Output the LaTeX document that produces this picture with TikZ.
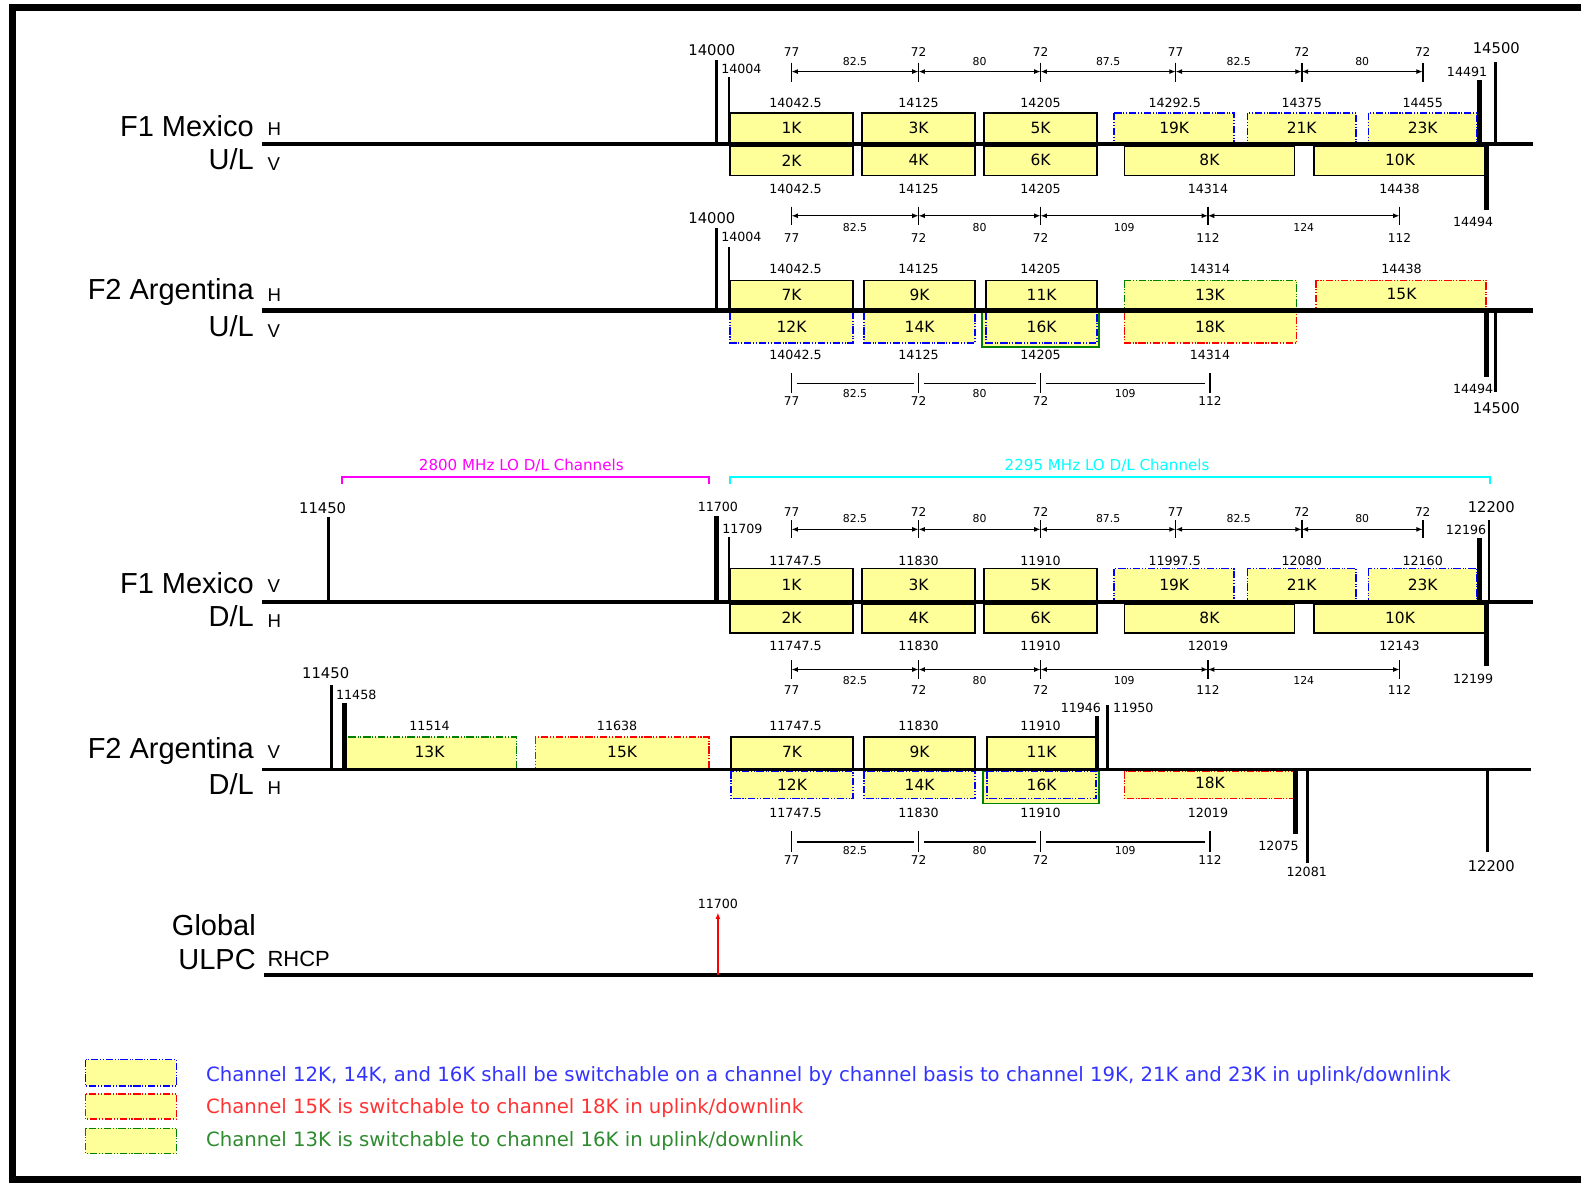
\documentclass[tikz,border=0pt]{standalone}
\usepackage{fontspec}
\setmainfont{Liberation Sans}
\newfontfamily\dvs{DejaVu Sans}
\usetikzlibrary{arrows.meta}
\definecolor{cYel}{HTML}{FFFF99}
\definecolor{cBlu}{HTML}{0000FF}
\definecolor{cRed}{HTML}{FF0000}
\definecolor{cGrn}{HTML}{008000}
\definecolor{cMag}{HTML}{FF00FF}
\definecolor{cCya}{HTML}{00FFFF}
\definecolor{cTxtBlu}{HTML}{3333FF}
\definecolor{cTxtRed}{HTML}{FF3333}
\definecolor{cTxtGrn}{HTML}{2E8B2E}

\begin{document}
\begin{tikzpicture}[
  x=0.020166cm, y=-0.020166cm,
  >={Latex[length=3.6pt,width=2.8pt]},
  axisln/.style={line width=2.6pt},
  edgeln/.style={line width=1.7pt},
  edgebold/.style={line width=2.8pt},
  chan/.style={draw=black, fill=cYel, line width=0.85pt},
  swdash/.style={fill=cYel, line width=0.85pt,
              dash pattern=on 4.2pt off 1pt on 0.6pt off 1pt on 0.6pt off 1pt},
  swblue/.style={swdash, draw=cBlu},
  swred/.style={swdash, draw=cRed},
  swgrn/.style={swdash, draw=cGrn},
  dimln/.style={line width=0.65pt},
  tickln/.style={line width=0.9pt},
  chlbl/.style={font=\dvs\fontsize{8.8}{10}\selectfont, inner sep=0pt},
  freq/.style={font=\dvs\fontsize{7.2}{8}\selectfont, inner sep=0pt},
  dimlbl/.style={font=\dvs\fontsize{6.2}{7}\selectfont, inner sep=0pt},
  ticklbl/.style={font=\dvs\fontsize{6.9}{8}\selectfont, inner sep=0pt},
  mklbl/.style={font=\dvs\fontsize{7.2}{8}\selectfont, inner sep=0pt},
  mkbig/.style={font=\dvs\fontsize{8.4}{9}\selectfont, inner sep=0pt},
  rowlbl/.style={font=\fontsize{16.5}{18}\selectfont, anchor=east, inner sep=0pt},
  pol/.style={font=\fontsize{10.6}{12}\selectfont, anchor=west, inner sep=0pt},
  lotxt/.style={font=\dvs\fontsize{8.6}{10}\selectfont, inner sep=0pt},
  legtxt/.style={font=\dvs\fontsize{11.2}{13}\selectfont, anchor=west, inner sep=0pt},
]
\useasboundingbox (0,0) rectangle (1568,1173);
% ---- page frame ----
\draw[line width=4pt] (1568,7) -- (12,7) -- (12,1170) -- (1568,1170);

% ---- F1 Mexico U/L ----
\node[rowlbl] (f1ul) at (252,125) {F1 Mexico};
\node[rowlbl] (f1ulb) at (252,158) {U/L};
\node[pol] (f1ulh) at (265,128) {H};
\node[pol] (f1ulv) at (265,163) {V};
\foreach \xa/\xb/\lab in {724/846/1K,855/967/3K,976/1088/5K}{
  \draw[chan] (\xa,112) rectangle (\xb,143);
  \node[chlbl] (ch\lab) at ({(\xa+\xb)/2},127) {\lab};
}
\foreach \xa/\xb/\lab in {1105/1224/19K,1237/1345/21K,1357/1465/23K}{
  \draw[swblue] (\xa,112) rectangle (\xb,143);
  \node[chlbl] (ch\lab) at ({(\xa+\xb)/2},127) {\lab};
}
\foreach \xa/\xb/\lab in {724/846/2K,855/967/4K,976/1088/6K,1115/1284/8K,1303/1474/10K}{
  \draw[chan] (\xa,145) rectangle (\xb,174);
  \node[chlbl] (ch\lab) at ({(\xa+\xb)/2},159) {\lab};
}
\foreach \x/\f in {789/14042.5,911/14125,1032/14205,1165/14292.5,1291/14375,1411/14455}
  \node[freq] at (\x,102) {\f};
\foreach \x/\f in {789/14042.5,911/14125,1032/14205,1198/14314,1388/14438}
  \node[freq] at (\x,187) {\f};
\draw[axisln] (260,143) -- (1520,143);
% band edges
\draw[edgeln] (711,143) -- (711,60);
\draw[edgeln] (723,143) -- (723,76);
\draw[edgebold] (1467,143) -- (1467,79);
\draw[edgeln] (1483,143) -- (1483,61);
\draw[edgebold] (1474,143) -- (1474,208);
\node[mkbig] (m14000a) at (706,50) {14000};
\node[mklbl, anchor=west] (m14004a) at (715,68) {14004};
\node[mklbl] (m14491) at (1455,71) {14491};
\node[mkbig] (m14500a) at (1484,48) {14500};
\node[mklbl] (m14494a) at (1461,220) {14494};
% spacing above
\foreach \xa/\xb/\v in {785/911/82.5,911/1032/80,1032/1166/87.5,1166/1291/82.5,1291/1411/80}{
  \draw[<->, dimln] (\xa,71) -- (\xb,71);
  \node[dimlbl] at ({(\xa+\xb)/2},61) {\v};
}
\foreach \x/\t in {785/77,911/72,1032/72,1166/77,1291/72,1411/72}{
  \draw[tickln] (\x,62) -- (\x,81);
  \node[ticklbl] at (\x,52) {\t};
}
% spacing between the two U/L plans
\foreach \xa/\xb/\v in {785/911/82.5,911/1032/80,1032/1198/109,1198/1388/124}{
  \draw[<->, dimln] (\xa,214) -- (\xb,214);
  \node[dimlbl] at ({(\xa+\xb)/2},226) {\v};
}
\foreach \x/\t in {785/77,911/72,1032/72,1198/112,1388/112}{
  \draw[tickln] (\x,205) -- (\x,223);
  \node[ticklbl] at (\x,236) {\t};
}

% ---- F2 Argentina U/L ----
\node[rowlbl] (f2ul) at (252,290) {F2 Argentina};
\node[rowlbl] (f2ulb) at (252,323) {U/L};
\node[pol] (f2ulh) at (265,293) {H};
\node[pol] (f2ulv) at (265,328) {V};
\foreach \xa/\xb/\lab in {724/846/7K,857/967/9K,978/1088/11K}{
  \draw[chan] (\xa,278) rectangle (\xb,308);
  \node[chlbl] (ch\lab) at ({(\xa+\xb)/2},292) {\lab};
}
\draw[swgrn] (1115,278) rectangle (1286,308);
\node[chlbl] (ch13K) at (1200,292) {13K};
\draw[swred] (1305,278) rectangle (1474,308);
\node[chlbl] (ch15K) at (1390,292) {15K};
\draw[draw=cGrn, fill=cYel, line width=0.85pt] (974,310) rectangle (1090,344);
\foreach \xa/\xb/\lab in {724/846/12K,857/967/14K,978/1088/16K}{
  \draw[swblue] (\xa,310) rectangle (\xb,340);
  \node[chlbl] (ch\lab) at ({(\xa+\xb)/2},324) {\lab};
}
\draw[swred] (1115,310) rectangle (1286,340);
\node[chlbl] (ch18K) at (1200,324) {18K};
\foreach \x/\f in {789/14042.5,911/14125,1032/14205,1200/14314,1390/14438}
  \node[freq] at (\x,267) {\f};
\foreach \x/\f in {789/14042.5,911/14125,1032/14205,1200/14314}
  \node[freq] at (\x,352) {\f};
\draw[axisln] (260,308) -- (1520,308);
\draw[edgeln] (711,308) -- (711,226);
\draw[edgeln] (723,308) -- (723,245);
\draw[edgebold] (1474,308) -- (1474,374);
\draw[edgeln] (1483,308) -- (1483,389);
\node[mkbig] (m14000b) at (706,216) {14000};
\node[mklbl, anchor=west] (m14004b) at (715,235) {14004};
\node[mklbl] (m14494b) at (1461,386) {14494};
\node[mkbig] (m14500b) at (1484,405) {14500};
% spacing below
\foreach \xa/\xb/\v in {785/911/82.5,911/1032/80,1032/1200/109}{
  \draw[dimln] (\xa+5,380) -- (\xb-5,380);
  \node[dimlbl] at ({(\xa+\xb)/2},390) {\v};
}
\foreach \x/\t in {785/77,911/72,1032/72,1200/112}{
  \draw[tickln] (\x,370) -- (\x,390);
  \node[ticklbl] at (\x,398) {\t};
}

% ---- LO ranges ----
\draw[cMag, line width=0.9pt] (339,480) -- (339,473) -- (703,473) -- (703,480);
\node[lotxt, text=cMag] (lo2800) at (517,462) {2800 MHz LO D/L Channels};
\draw[cCya, line width=0.9pt] (724,480) -- (724,473) -- (1478,473) -- (1478,480);
\node[lotxt, text=cCya] (lo2295) at (1098,462) {2295 MHz LO D/L Channels};

% ---- F1 Mexico D/L ----
\node[rowlbl] (f1dl) at (252,578) {F1 Mexico};
\node[rowlbl] (f1dlb) at (252,611) {D/L};
\node[pol] (f1dlv) at (265,581) {V};
\node[pol] (f1dlh) at (265,616) {H};
\foreach \xa/\xb/\lab in {724/846/1K,855/967/3K,976/1088/5K}{
  \draw[chan] (\xa,564) rectangle (\xb,597);
  \node[chlbl] at ({(\xa+\xb)/2},580) {\lab};
}
\foreach \xa/\xb/\lab in {1105/1224/19K,1237/1345/21K,1357/1465/23K}{
  \draw[swblue] (\xa,564) rectangle (\xb,597);
  \node[chlbl] at ({(\xa+\xb)/2},580) {\lab};
}
\foreach \xa/\xb/\lab in {724/846/2K,855/967/4K,976/1088/6K,1115/1284/8K,1303/1474/10K}{
  \draw[chan] (\xa,599) rectangle (\xb,628);
  \node[chlbl] at ({(\xa+\xb)/2},613) {\lab};
}
\foreach \x/\f in {789/11747.5,911/11830,1032/11910,1165/11997.5,1291/12080,1411/12160}
  \node[freq] at (\x,556) {\f};
\foreach \x/\f in {789/11747.5,911/11830,1032/11910,1198/12019,1388/12143}
  \node[freq] at (\x,641) {\f};
\draw[line width=2pt] (260,597) -- (1520,597);
\draw[edgeln] (326,597) -- (326,513);
\draw[edgebold] (711,597) -- (711,512);
\draw[edgeln] (723,597) -- (723,533);
\draw[edgebold] (1467,597) -- (1467,534);
\draw[line width=1.3pt] (1477,597) -- (1477,516);
\draw[edgebold] (1474,597) -- (1474,661);
\node[mkbig] (m11450a) at (320,504) {11450};
\node[mklbl] (m11700a) at (712,503) {11700};
\node[mklbl, anchor=west] (m11709) at (716,525) {11709};
\node[mkbig] (m12200a) at (1479,503) {12200};
\node[mklbl] (m12196) at (1454,526) {12196};
\node[mklbl] (m12199) at (1461,673) {12199};
% spacing above
\foreach \xa/\xb/\v in {785/911/82.5,911/1032/80,1032/1166/87.5,1166/1291/82.5,1291/1411/80}{
  \draw[<->, dimln] (\xa,525) -- (\xb,525);
  \node[dimlbl] at ({(\xa+\xb)/2},514) {\v};
}
\foreach \x/\t in {785/77,911/72,1032/72,1166/77,1291/72,1411/72}{
  \draw[tickln] (\x,516) -- (\x,534);
  \node[ticklbl] at (\x,508) {\t};
}
% spacing below
\foreach \xa/\xb/\v in {785/911/82.5,911/1032/80,1032/1198/109,1198/1388/124}{
  \draw[<->, dimln] (\xa,664) -- (\xb,664);
  \node[dimlbl] at ({(\xa+\xb)/2},675) {\v};
}
\foreach \x/\t in {785/77,911/72,1032/72,1198/112,1388/112}{
  \draw[tickln] (\x,655) -- (\x,673);
  \node[ticklbl] at (\x,684) {\t};
}

% ---- F2 Argentina D/L ----
\node[rowlbl] (f2dl) at (252,745) {F2 Argentina};
\node[rowlbl] (f2dlb) at (252,778) {D/L};
\node[pol] (f2dlv) at (265,746) {V};
\node[pol] (f2dlh) at (265,782) {H};
\draw[swgrn] (340,731) rectangle (512,763);
\node[chlbl] at (426,746) {13K};
\draw[swred] (531,731) rectangle (703,763);
\node[chlbl] at (617,746) {15K};
\foreach \xa/\xb/\lab in {725/846/7K,857/967/9K,979/1087/11K}{
  \draw[chan] (\xa,731) rectangle (\xb,763);
  \node[chlbl] at ({(\xa+\xb)/2},746) {\lab};
}
\draw[draw=cGrn, fill=cYel, line width=0.85pt] (975,765) rectangle (1090,797);
\foreach \xa/\xb/\lab in {725/846/12K,857/967/14K,979/1087/16K}{
  \draw[swblue] (\xa,765) rectangle (\xb,792);
  \node[chlbl] at ({(\xa+\xb)/2},778) {\lab};
}
\draw[swred] (1115,765) rectangle (1284,792);
\node[chlbl] at (1200,776) {18K};
\foreach \x/\f in {426/11514,612/11638,789/11747.5,911/11830,1032/11910}
  \node[freq] at (\x,720) {\f};
\foreach \x/\f in {789/11747.5,911/11830,1032/11910,1198/12019}
  \node[freq] at (\x,806) {\f};
\draw[line width=1.5pt] (260,763) -- (1518,763);
\draw[edgeln] (329,763) -- (329,679);
\draw[edgebold] (342,763) -- (342,697);
\draw[edgebold] (1088,763) -- (1088,710);
\draw[edgeln] (1098,763) -- (1098,699);
\draw[edgebold] (1285,763) -- (1285,827);
\draw[edgeln] (1297,763) -- (1297,856);
\draw[edgeln] (1475,763) -- (1475,845);
\node[mkbig] (m11450b) at (323,668) {11450};
\node[mklbl, anchor=west] (m11458) at (333,689) {11458};
\node[mklbl] (m11946) at (1072,702) {11946};
\node[mklbl] (m11950) at (1124,702) {11950};
\node[mklbl] (m12075) at (1268,839) {12075};
\node[mklbl] (m12081) at (1296,865) {12081};
\node[mkbig] (m12200b) at (1479,859) {12200};
% spacing below
\foreach \xa/\xb/\v in {785/911/82.5,911/1032/80,1032/1200/109}{
  \draw[dimln] (\xa+5,835) -- (\xb-5,835);
  \node[dimlbl] at ({(\xa+\xb)/2},844) {\v};
}
\foreach \x/\t in {785/77,911/72,1032/72,1200/112}{
  \draw[tickln] (\x,824) -- (\x,845);
  \node[ticklbl] at (\x,853) {\t};
}

% ---- Global ULPC ----
\node[rowlbl] (glob) at (254,918) {Global};
\node[rowlbl] (ulpc) at (254,952) {ULPC};
\node[pol, font=\fontsize{12.5}{14}\selectfont] (rhcp) at (265,951) {RHCP};
\draw[line width=2.2pt] (262,967) -- (1520,967);
\coordinate (beacon) at (712,905);
\draw[->, cRed, line width=0.9pt] (712,967) -- (beacon);
\node[mklbl] (m11700b) at (712,896) {11700};

% ---- legend ----
\draw[swblue] (85,1051) rectangle (175,1077);
\draw[swred] (85,1085) rectangle (175,1110);
\draw[swgrn] (85,1119) rectangle (175,1144);
\node[legtxt, text=cTxtBlu] (legb) at (204,1067) {Channel 12K, 14K, and 16K shall be switchable on a channel by channel basis to channel 19K, 21K and 23K in uplink/downlink};
\node[legtxt, text=cTxtRed] (legr) at (204,1099) {Channel 15K is switchable to channel 18K in uplink/downlink};
\node[legtxt, text=cTxtGrn] (legg) at (204,1132) {Channel 13K is switchable to channel 16K in uplink/downlink};
\end{tikzpicture}
\end{document}
